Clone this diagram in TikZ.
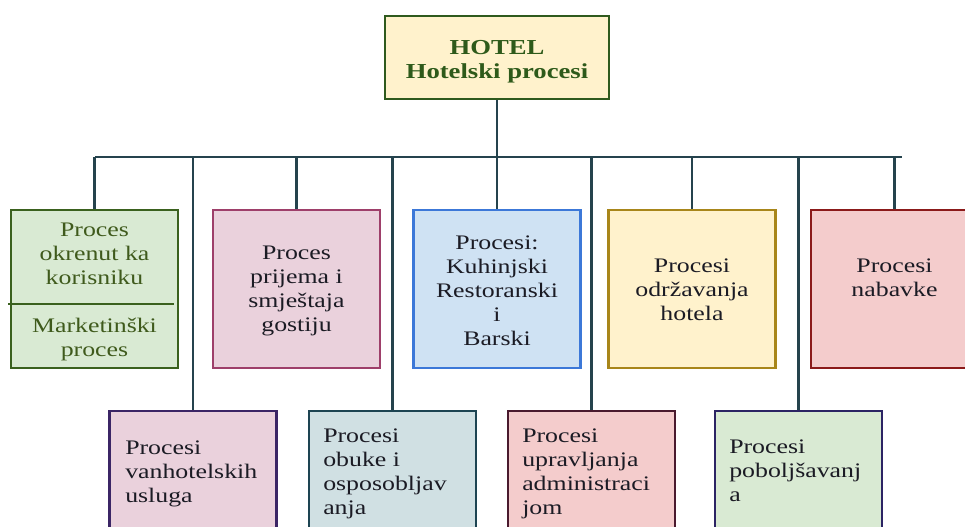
\documentclass[tikz,border=0pt]{standalone}
\usepackage{fontspec}
\setmainfont{Liberation Serif}[FakeStretch=1.25]
\definecolor{conncol}{HTML}{25434D}
\definecolor{txt}{HTML}{1B1B24}
\definecolor{greentxt}{HTML}{3F5A1C}
\definecolor{hoteltxt}{HTML}{2E5A1A}
\definecolor{hotelfill}{HTML}{FFF2CC}
\definecolor{hoteldraw}{HTML}{2F5A1E}
\definecolor{fA}{HTML}{D9EAD3}\definecolor{dA}{HTML}{3A611E}
\definecolor{fB}{HTML}{EAD1DC}\definecolor{dB}{HTML}{9E3F6A}
\definecolor{fC}{HTML}{CFE2F3}\definecolor{dC}{HTML}{3C78D8}
\definecolor{fD}{HTML}{FFF2CC}\definecolor{dD}{HTML}{A8861A}
\definecolor{fE}{HTML}{F4CCCC}\definecolor{dE}{HTML}{8B1A1A}
\definecolor{fF}{HTML}{EAD1DC}\definecolor{dF}{HTML}{3B2565}
\definecolor{fG}{HTML}{D0E0E3}\definecolor{dG}{HTML}{1D4452}
\definecolor{fH}{HTML}{F4CCCC}\definecolor{dH}{HTML}{4A1A2E}
\definecolor{fI}{HTML}{D9EAD3}\definecolor{dI}{HTML}{2C2464}
\tikzset{
  procbox/.style={draw, line width=1.9pt, inner sep=0pt, minimum width=125.25pt},
  toprow/.style={procbox, minimum height=118.5pt},
  botrow/.style={procbox, minimum height=93pt},
  conn/.style={draw=conncol, line width=1.9pt},
  ctext/.style={inner sep=0pt, align=center, text=txt,
    font=\fontsize{15.5}{18}\selectfont},
  ltext/.style={inner sep=0pt, align=left, text=txt, anchor=west,
    font=\fontsize{15.5}{18}\selectfont},
}
\begin{document}
\begin{tikzpicture}[x=0.75pt, y=-0.75pt]
\clip (0,0) rectangle (965,527);
\useasboundingbox (0,0) rectangle (965,527);

% top node
\node[draw=hoteldraw, fill=hotelfill, line width=1.9pt, inner sep=0pt,
      minimum width=168pt, minimum height=62.25pt] (hotel) at (497,57.5) {};
\node[inner sep=0pt, align=center, text=hoteltxt,
      font=\fontsize{16}{18}\selectfont\bfseries] (hoteltext) at (497,62)
      {\strut HOTEL\\Hotelski procesi\strut};

% top row boxes
\node[toprow, draw=dA, fill=fA] (b1) at (94.5,289) {};
\node[toprow, draw=dB, fill=fB] (b2) at (296.5,289) {};
\node[toprow, draw=dC, fill=fC] (b3) at (497,289) {};
\node[toprow, draw=dD, fill=fD] (b4) at (692,289) {};
\node[toprow, draw=dE, fill=fE] (b5) at (894.5,289) {};

% bottom row boxes
\node[botrow, draw=dF, fill=fF] (b6) at (193,473) {};
\node[botrow, draw=dG, fill=fG] (b7) at (392.5,473) {};
\node[botrow, draw=dH, fill=fH] (b8) at (591.5,473) {};
\node[botrow, draw=dI, fill=fI] (b9) at (798.5,473) {};

% divider inside first box
\draw[draw=dA, line width=1.5pt] (8,304) -- (174,304);

% texts of the top row
\node[ctext, text=greentxt] (t1a) at (94.5,256.2) {\strut Proces\\okrenut ka\\korisniku\strut};
\node[ctext, text=greentxt] (t1b) at (94.5,340.2) {\strut Marketinški\\proces\strut};
\node[ctext] (t2) at (296.5,291.2) {\strut Proces\\prijema i\\smještaja\\gostiju\strut};
\node[ctext] (t3) at (497,292.5) {\strut Procesi:\\Kuhinjski\\Restoranski\\i\\Barski\strut};
\node[ctext] (t4) at (692,292.2) {\strut Procesi\\održavanja\\hotela\strut};
\node[ctext] (t5) at (894.5,280.2) {\strut Procesi\\nabavke\strut};

% texts of the bottom row
\node[ltext] (t6) at (125,474.2) {\strut Procesi\\vanhotelskih\\usluga\strut};
\node[ltext] (t7) at (323,473.2) {\strut Procesi\\obuke i\\osposobljav\\anja\strut};
\node[ltext] (t8) at (522,473.2) {\strut Procesi\\upravljanja\\administraci\\jom\strut};
\node[ltext] (t9) at (729,473.2) {\strut Procesi\\poboljšavanj\\a\strut};

% connectors
\coordinate (busL) at (95,157);
\coordinate (busR) at (902,157);
\draw[conn] (busL) -- (busR);
\draw[conn] (hotel.south) -- (hotel.south |- busL);
\foreach \b in {b1,b2,b3,b4,b5,b6,b7,b8,b9}
  \draw[conn] (\b.north) -- (\b.north |- busL);
\end{tikzpicture}
\end{document}
